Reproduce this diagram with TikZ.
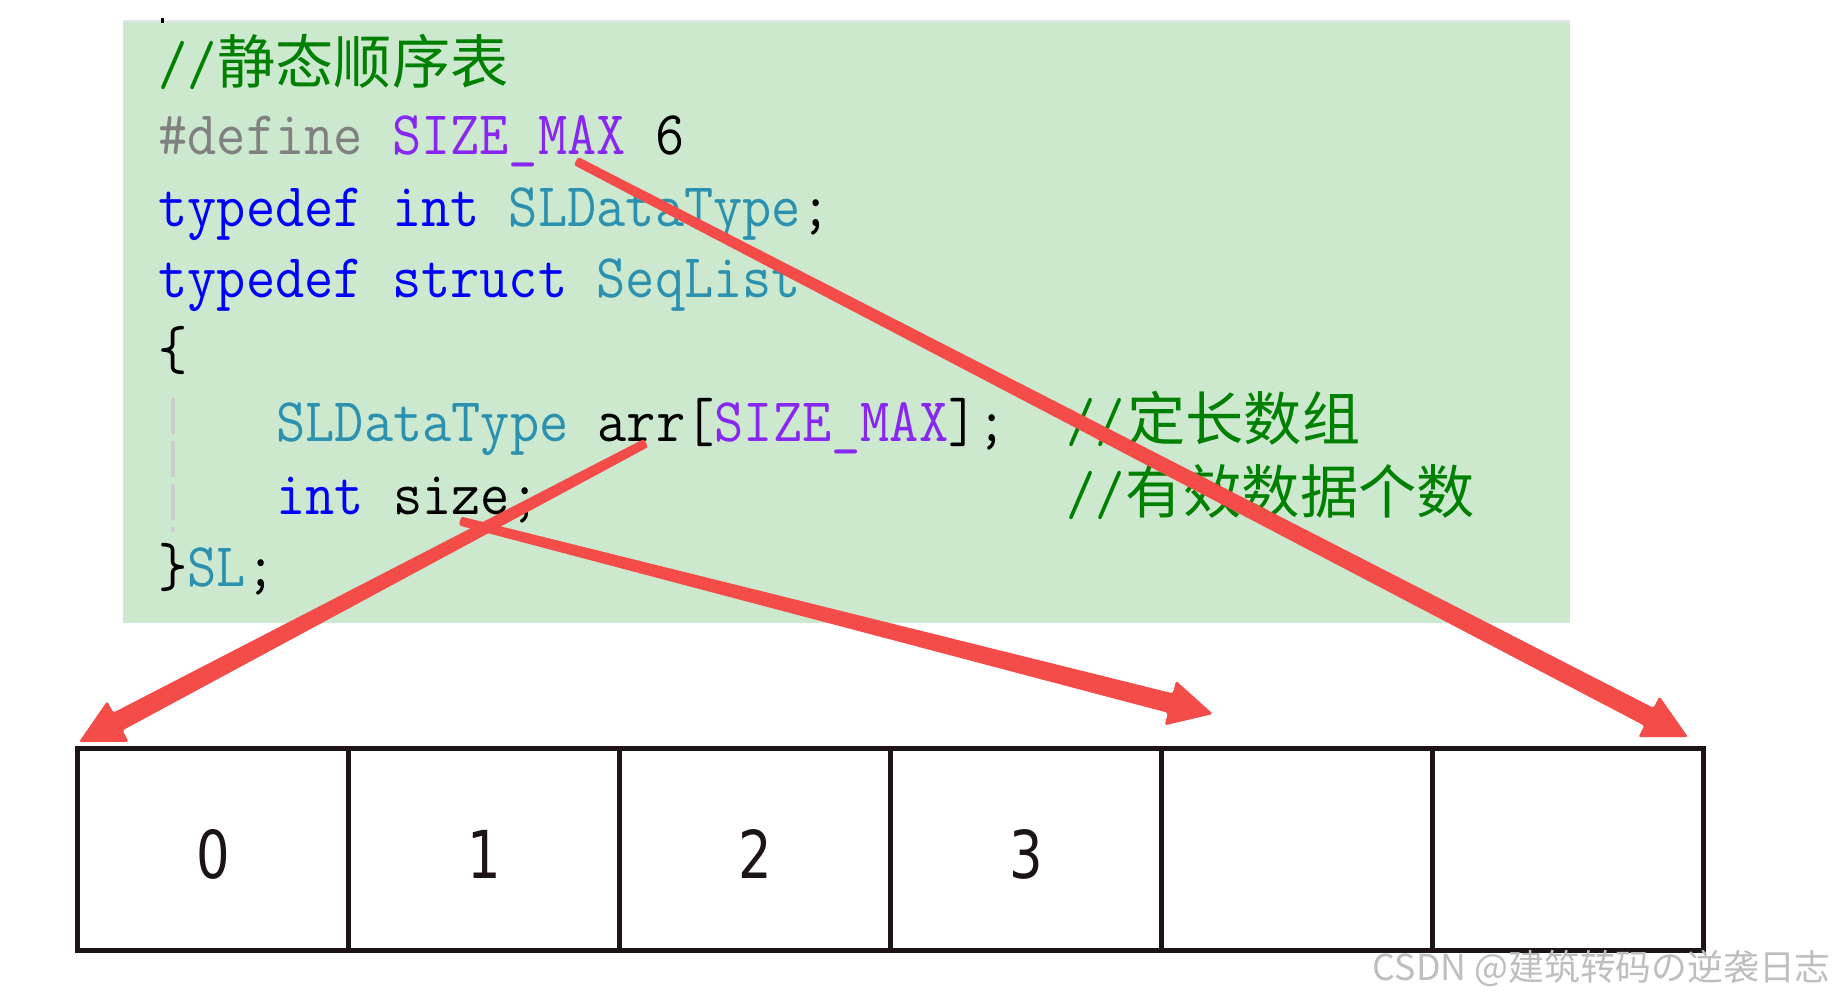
\documentclass[tikz,border=0pt]{standalone}
\usepackage{fontspec}
\usepackage{graphicx}
\usetikzlibrary{calc}
\newfontfamily\cjkfont{Noto Sans CJK SC}
\newfontfamily\digitfont[FakeStretch=0.8]{DejaVu Sans}
\definecolor{boxgreen}{RGB}{204,232,207}
\definecolor{cgreen}{RGB}{0,128,0}
\definecolor{cgray}{RGB}{128,128,128}
\definecolor{cpurple}{RGB}{136,38,242}
\definecolor{cblue}{RGB}{0,0,255}
\definecolor{cteal}{RGB}{43,145,175}
\definecolor{celldark}{RGB}{28,20,24}
\definecolor{arrowred}{RGB}{244,76,72}
\definecolor{wmgray}{RGB}{190,190,190}
\definecolor{guidegray}{RGB}{205,205,205}
\definecolor{topline}{RGB}{226,229,234}
\newcommand\sqz[1]{\scalebox{0.912}[1]{#1}}
% tapered arrow: #1 tail, #2 tip, #3 prefix
\newcommand\taperarrow[3]{%
  \coordinate (#3b) at ($(#2)!22pt!(#1)$);
  \fill[arrowred, rounded corners=1.2pt]
    ($(#1)!2.3pt!90:(#2)$) -- ($(#3b)!5pt!-90:(#1)$) -- ($(#3b)!11.5pt!-90:(#1)$)
    -- (#2) -- ($(#3b)!11.5pt!90:(#1)$) -- ($(#3b)!5pt!90:(#1)$)
    -- ($(#1)!2.3pt!-90:(#2)$) -- cycle;
}
\begin{document}
\begin{tikzpicture}[x=0.5pt,y=-0.5pt,
  code/.style={anchor=base west, inner sep=0pt, font=\ttfamily\fontsize{31.1pt}{31.1pt}\selectfont},
  cjk/.style={anchor=base west, inner sep=0pt, font=\cjkfont\fontsize{29.1pt}{29.1pt}\selectfont, text=cgreen},
  cell/.style={draw=celldark, line width=2.5pt, minimum width=135.5pt, minimum height=101pt,
    inner sep=0pt, text height=29pt, text depth=0pt, font=\digitfont\fontsize{33pt}{33pt}\selectfont, text=celldark}]
\fill[white] (0,0) rectangle (1833,1000);
\useasboundingbox (0,0) rectangle (1833,1000);
% code background
\fill[boxgreen] (123,22) rectangle (1570,623);
\draw[topline, line width=1pt] (123,21) -- (1570,21);
\fill[black] (160.5,18.5) rectangle (163.5,23.5);
\draw[guidegray, line width=2pt, dash pattern=on 18pt off 3.5pt] (173,398) -- (173,532);
% code lines
\node[code] (l1) at (158,85) {\sqz{\textcolor{cgreen}{//}}};
\node[cjk] (m1) at (217,84) {静态顺序表};
\node[code] (l2) at (158,155) {\sqz{\textcolor{cgray}{\#define} \textcolor{cpurple}{SIZE\_MAX} 6}};
\node[code] (l3) at (158,227) {\sqz{\textcolor{cblue}{typedef int} \textcolor{cteal}{SLDataType};}};
\node[code] (l4) at (158,298) {\sqz{\textcolor{cblue}{typedef struct} \textcolor{cteal}{SeqList}}};
\node[code] (l5) at (158,370) {\sqz{\{}};
\node[code] (l6) at (276,442) {\sqz{\textcolor{cteal}{SLDataType} arr[\textcolor{cpurple}{SIZE\_MAX}];}};
\node[code] (s6) at (1066,442) {\sqz{\textcolor{cgreen}{//}}};
\node[cjk] (m6) at (1127,441) {定长数组};
\node[code] (l7) at (276,514) {\sqz{\textcolor{cblue}{int} size;}};
\node[code] (s7) at (1066,514) {\sqz{\textcolor{cgreen}{//}}};
\node[cjk] (m7) at (1125,513) {有效数据个数};
\node[code] (l8) at (158,586) {\sqz{\}\textcolor{cteal}{SL};}};
% array cells
\node[cell] (c0) at (213,849) {0};
\node[cell] (c1) at (484,849) {1};
\node[cell] (c2) at (755,849) {2};
\node[cell] (c3) at (1026,849) {3};
\node[cell] (c4) at (1297,849) {};
\node[cell] (c5) at (1568,849) {};
% arrows
\coordinate (tA) at (576,161);
\coordinate (hA) at (1688,737);
\coordinate (tB) at (646,443);
\coordinate (hB) at (79,742);
\coordinate (tC) at (460,521);
\coordinate (hC) at (1213,714);
\taperarrow{tA}{hA}{aA}
\taperarrow{tB}{hB}{aB}
\taperarrow{tC}{hC}{aC}
% watermark
\node[anchor=base east, inner sep=0pt, font=\cjkfont\fontsize{17.9pt}{17.9pt}\selectfont, text=wmgray] (wm) at (1831,980) {CSDN @建筑转码の逆袭日志};
\end{tikzpicture}
\end{document}
